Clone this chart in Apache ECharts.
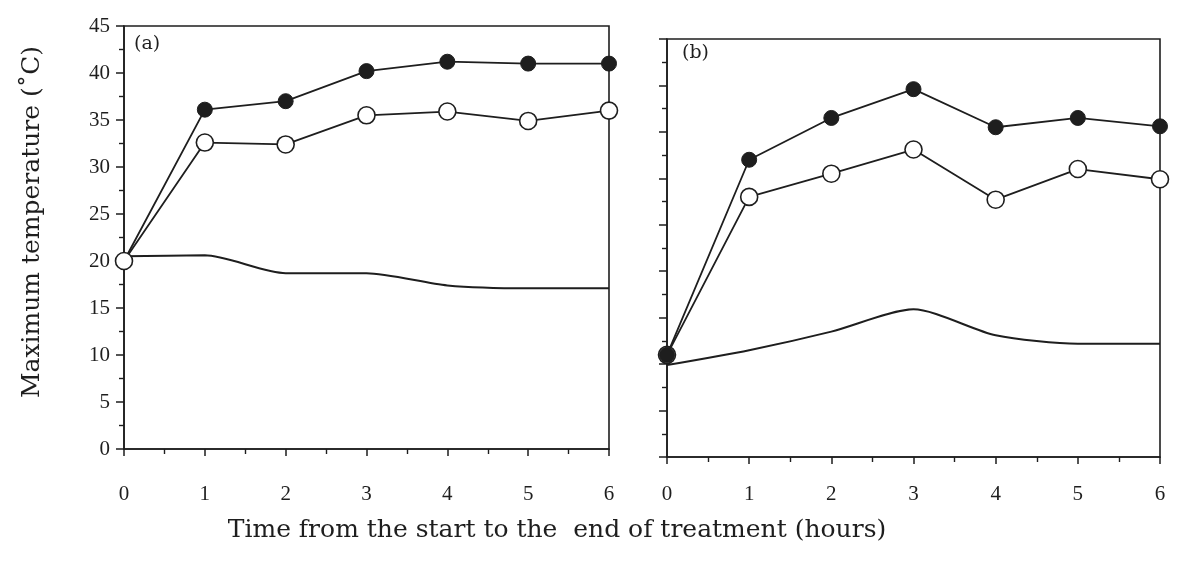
<!DOCTYPE html>
<html>
<head>
<meta charset="utf-8">
<script src="https://cdn.jsdelivr.net/npm/echarts@6/dist/echarts.min.js"></script>
<style>
  html, body { margin: 0; padding: 0; background: #ffffff; }
  #chart { width: 1180px; height: 565px; }
</style>
</head>
<body>
<div id="chart"></div>
<script>
// ---- Data ----
var hours = [0, 1, 2, 3, 4, 5, 6];
var xTickLabels = ['0', '1', '2', '3', '4', '5', '6'];
var yTickLabels = ['0', '5', '10', '15', '20', '25', '30', '35', '40', '45'];

// Panel (a)
var aFilled = [20.0, 36.1, 37.0, 40.2, 41.2, 41.0, 41.0];
var aOpen   = [20.0, 32.6, 32.4, 35.5, 35.9, 34.9, 36.0];
var aPlain  = [20.5, 20.6, 18.7, 18.7, 17.4, 17.1, 17.1];

// Panel (b)
var bFilled = [11.0, 32.0, 36.5, 39.6, 35.5, 36.5, 35.6];
var bOpen   = [11.0, 28.0, 30.5, 33.1, 27.7, 31.0, 29.9];
var bPlain  = [9.9, 11.5, 13.5, 15.9, 13.1, 12.2, 12.2];

var yTitle = 'Maximum temperature (\u02DAC)';
var xTitle = 'Time from the start to the  end of treatment (hours)';
var panelLabels = ['(a)', '(b)'];

// ---- Chart ----
var ink = '#1e1e1e';
var serif = '"Liberation Serif", "DejaVu Serif", serif';
var wideSerif = '"DejaVu Serif", "Liberation Serif", serif';

function pairs(vals) {
  return hours.map(function (h, i) { return [h, vals[i]]; });
}

function xAxisDef(gridIndex, margin) {
  return {
    type: 'value', gridIndex: gridIndex, min: 0, max: 6, interval: 1,
    axisLine: { show: true, onZero: false, lineStyle: { color: ink, width: 1.6 } },
    axisTick: { show: true, inside: false, length: 7, lineStyle: { color: ink, width: 1.5 } },
    minorTick: { show: true, splitNumber: 2, length: 5, lineStyle: { color: ink, width: 1.4 } },
    splitLine: { show: false },
    axisLabel: {
      color: ink, fontFamily: serif, fontSize: 21, margin: margin,
      formatter: function (v) { return xTickLabels[hours.indexOf(v)]; }
    }
  };
}

function yAxisDef(gridIndex, showLabels) {
  return {
    type: 'value', gridIndex: gridIndex, min: 0, max: 45, interval: 5,
    axisLine: { show: true, onZero: false, lineStyle: { color: ink, width: 1.6 } },
    axisTick: { show: true, inside: false, length: 8, lineStyle: { color: ink, width: 1.5 } },
    minorTick: { show: true, splitNumber: 2, length: 5, lineStyle: { color: ink, width: 1.4 } },
    splitLine: { show: false },
    axisLabel: {
      show: showLabels, color: ink, fontFamily: serif, fontSize: 21, margin: 14,
      formatter: function (v) { return yTickLabels[v / 5]; }
    }
  };
}

function filledSeries(idx, vals, z) {
  return {
    type: 'line', xAxisIndex: idx, yAxisIndex: idx, data: pairs(vals), z: z,
    symbol: 'circle', symbolSize: 15, showSymbol: true,
    lineStyle: { color: ink, width: 1.8 },
    itemStyle: { color: ink, borderColor: ink, borderWidth: 1 }
  };
}
function openSeries(idx, vals, z) {
  return {
    type: 'line', xAxisIndex: idx, yAxisIndex: idx, data: pairs(vals), z: z,
    symbol: 'circle', symbolSize: 17, showSymbol: true,
    lineStyle: { color: ink, width: 1.8 },
    itemStyle: { color: '#ffffff', borderColor: ink, borderWidth: 1.6 }
  };
}
function plainSeries(idx, vals) {
  return {
    type: 'line', xAxisIndex: idx, yAxisIndex: idx, data: pairs(vals), z: 2,
    symbol: 'none', smooth: 0.25,
    lineStyle: { color: ink, width: 2 }
  };
}

var chart = echarts.init(document.getElementById('chart'), null, { renderer: 'canvas' });
chart.setOption({
  backgroundColor: '#ffffff',
  animation: false,
  grid: [
    { left: 124, top: 26, width: 485, height: 423, show: true, borderColor: ink, borderWidth: 1.6, backgroundColor: 'transparent' },
    { left: 667, top: 39, width: 493, height: 418, show: true, borderColor: ink, borderWidth: 1.6, backgroundColor: 'transparent' }
  ],
  xAxis: [xAxisDef(0, 35), xAxisDef(1, 27)],
  yAxis: [yAxisDef(0, true), yAxisDef(1, false)],
  series: [
    plainSeries(0, aPlain),
    filledSeries(0, aFilled, 3),
    openSeries(0, aOpen, 4),
    plainSeries(1, bPlain),
    openSeries(1, bOpen, 3),
    filledSeries(1, bFilled, 4)
  ],
  graphic: [
    { type: 'text', left: 134, top: 35, style: { text: panelLabels[0], font: '19px ' + wideSerif, fill: ink } },
    { type: 'text', left: 682, top: 44, style: { text: panelLabels[1], font: '19px ' + wideSerif, fill: ink } },
    { type: 'text', x: 557, y: 530, style: { text: xTitle, font: '25px ' + wideSerif, fill: ink, align: 'center', verticalAlign: 'middle' } },
    { type: 'text', x: 32, y: 222, rotation: Math.PI / 2, style: { text: yTitle, font: '25px ' + wideSerif, fill: ink, align: 'center', verticalAlign: 'middle' } }
  ]
});
</script>
</body>
</html>
